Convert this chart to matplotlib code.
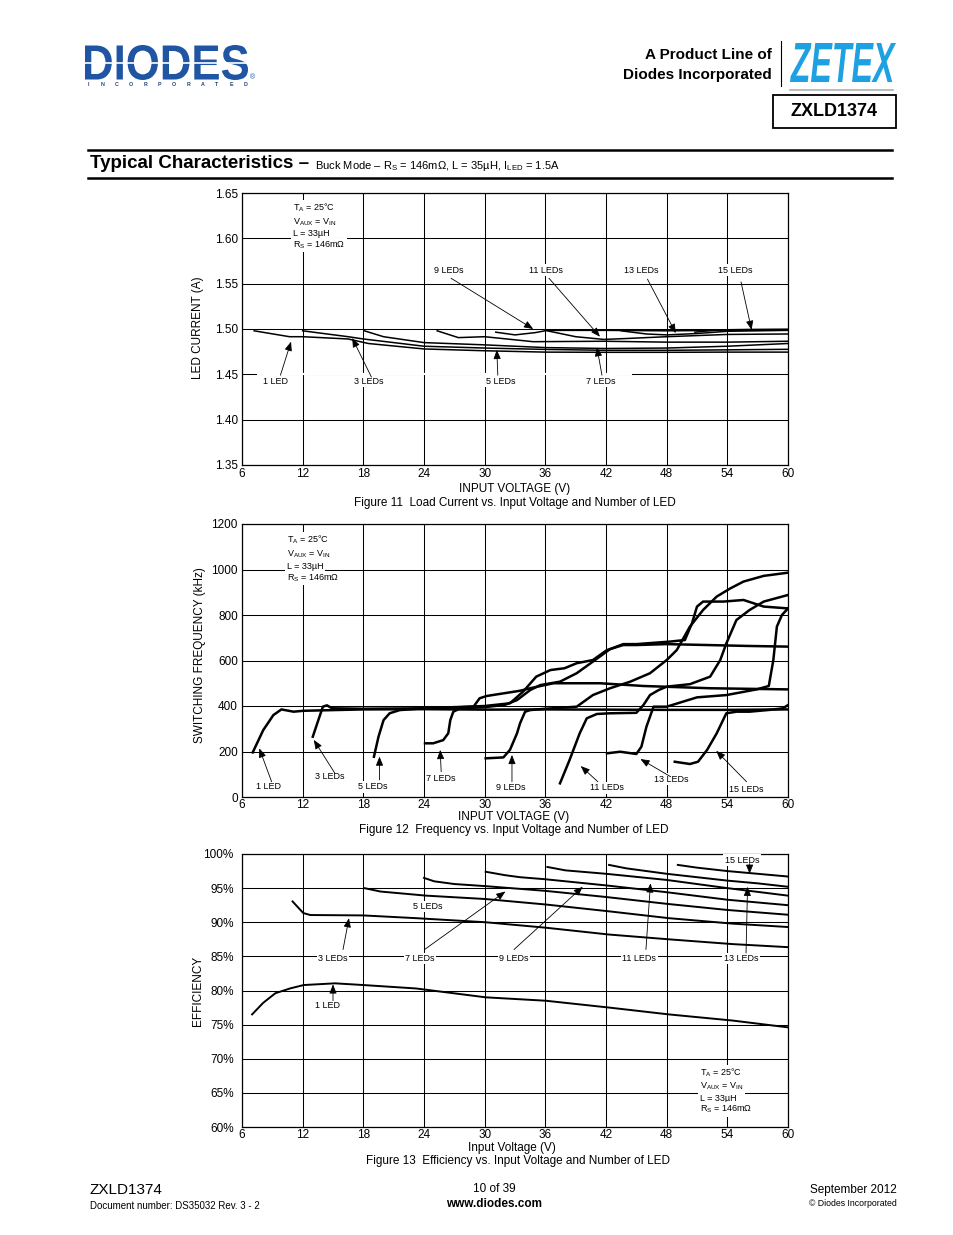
import matplotlib
matplotlib.use("Agg")
import matplotlib.pyplot as plt
from matplotlib.textpath import TextPath
from matplotlib.patches import PathPatch, Rectangle
from matplotlib.font_manager import FontProperties
import matplotlib.transforms as mtransforms

plt.rcParams['font.family'] = ['Liberation Sans', 'DejaVu Sans']
plt.rcParams['mathtext.fontset'] = 'custom'
plt.rcParams['mathtext.rm'] = 'Liberation Sans'
plt.rcParams['mathtext.it'] = 'Liberation Sans:italic'
plt.rcParams['mathtext.bf'] = 'Liberation Sans:bold'

# ---------------- data ----------------
vin_ticks = [6, 12, 18, 24, 30, 36, 42, 48, 54, 60]
led_labels = ['1 LED', '3 LEDs', '5 LEDs', '7 LEDs', '9 LEDs', '11 LEDs', '13 LEDs', '15 LEDs']

# Figure 11 - LED current (A) vs input voltage
cur_v = [
    [7.2, 10.7, 12.0, 16.5, 18.5, 24, 30, 36, 42, 48, 54, 60],
    [12.0, 16.5, 18, 24, 30, 36, 42, 48, 54, 60],
    [18.1, 20, 24, 30, 36, 42, 48, 54, 60],
    [25.3, 27.4, 30, 34.8, 41.8, 48, 54, 60],
    [31.1, 33, 35, 36.2, 42, 48, 54, 60],
    [36.2, 39, 41.8, 44, 48, 54, 60],
    [43.5, 46, 48, 51, 54, 60],
    [50.8, 53, 56, 60],
]
cur_a = [
    [1.498, 1.4915, 1.4915, 1.489, 1.484, 1.478, 1.476, 1.4745, 1.4743, 1.4743, 1.4745, 1.4745],
    [1.498, 1.4915, 1.489, 1.481, 1.479, 1.4775, 1.4765, 1.4765, 1.477, 1.4776],
    [1.498, 1.4915, 1.485, 1.4825, 1.4795, 1.4785, 1.479, 1.481, 1.484],
    [1.498, 1.4905, 1.4915, 1.486, 1.4865, 1.4855, 1.4855, 1.4865],
    [1.4965, 1.4935, 1.4960, 1.4985, 1.4985, 1.498, 1.4985, 1.499],
    [1.498, 1.4915, 1.4885, 1.4895, 1.4915, 1.494, 1.4945],
    [1.498, 1.4945, 1.4935, 1.495, 1.4975, 1.4985],
    [1.4965, 1.499, 1.4995, 1.4998],
]

# Figure 12 - switching frequency (kHz) vs input voltage
frq_v = [
    [7.06, 8.1, 9.1, 9.9, 11.1, 12.1, 18, 24, 30, 36, 42, 48, 54, 60],
    [13.0, 13.55, 14.0, 14.4, 14.9, 18, 24, 27, 28.9, 29.5, 30.2, 33.5, 34.5, 36.8, 41.4, 45.7, 52.3, 60],
    [19.05, 19.5, 20.0, 20.6, 21.6, 24, 27, 30, 32.5, 33.8, 35.1, 36.5, 37.9, 39.1, 40.7, 42.1, 43.7,
     45, 48, 52, 56, 60],
    [24.1, 24.9, 25.9, 26.4, 26.6, 26.9, 27.6, 30, 32, 33.2, 34.5, 35.5, 37.45, 39.1, 40.7, 42.4, 43.7,
     45.0, 48.3, 49.8, 50.5, 51.0, 51.6, 53.6, 55.6, 57.6, 60],
    [30.1, 31.85, 32.5, 33.2, 33.5, 34.0, 34.5, 36, 39.1, 40.7, 42.4, 44.4, 46.35, 48.0, 49.0, 50.3,
     51.6, 52.95, 54.3, 55.6, 57.6, 60],
    [37.45, 38.4, 39.4, 40.1, 41.1, 42.4, 45.0, 45.7, 46.35, 47.2, 48.0, 50.3, 52.3, 53.3, 53.9, 54.9,
     56.2, 57.6, 60],
    [42.1, 43.4, 45.0, 45.5, 46.0, 46.7, 48.0, 51.0, 53.9, 56.9, 58.1, 58.55, 58.9, 59.4, 60],
    [48.8, 50.3, 51.1, 52.0, 52.95, 53.9, 54.9, 56.2, 58.2, 59.5, 60.0],
]
frq_k = [
    [196, 294, 360, 385, 375, 379, 385, 386, 384, 385, 384, 383, 383, 385],
    [265, 338, 397, 403, 390, 388, 390, 393, 397, 434, 444, 467, 478, 500, 500, 488, 478, 473],
    [177, 265, 338, 368, 382, 390, 395, 400, 412, 463, 529, 558, 566, 588, 602, 646, 668,
     668, 672, 668, 664, 661],
    [236, 236, 250, 280, 338, 375, 390, 395, 405, 426, 470, 492, 507, 544, 595, 650, 672,
     672, 683, 690, 763, 837, 859, 859, 866, 837, 829],
    [170, 174, 207, 280, 324, 375, 382, 388, 397, 448, 478, 507, 544, 602, 646, 749,
     822, 881, 917, 947, 972, 986],
    [60, 163, 280, 346, 365, 368, 370, 404, 448, 470, 485, 496, 529, 602, 675, 778,
     822, 859, 888],
    [192, 199, 189, 221, 309, 397, 397, 438, 448, 473, 488, 602, 749, 800, 829],
    [155, 145, 155, 207, 280, 368, 375, 375, 383, 390, 404],
]

# Figure 13 - efficiency (%) vs input voltage
eff_v = [
    [7.0, 8.1, 9.3, 10.75, 12.1, 15.2, 18.0, 23.2, 30.1, 36.05, 42.3, 48.2, 54.5, 60],
    [11.0, 12.06, 12.75, 18.0, 23.2, 30.1, 36.05, 42.3, 48.2, 54.5, 60],
    [18.1, 19.7, 24.2, 30.1, 36.05, 42.3, 48.2, 54.5, 60],
    [24.0, 25, 27, 30, 36, 42, 48, 54, 60],
    [30.1, 32, 33.5, 36, 42, 48, 54, 60],
    [36.2, 38, 42, 48, 54, 60],
    [42.3, 44, 48, 51, 54, 57, 60],
    [49.1, 51, 54, 57, 60],
]
eff_p = [
    [76.5, 78.2, 79.6, 80.3, 80.8, 81.05, 80.8, 80.3, 79.0, 78.5, 77.5, 76.5, 75.6, 74.6],
    [93.05, 91.35, 91.06, 91.0, 90.6, 90.0, 89.2, 88.2, 87.5, 86.8, 86.35],
    [95.0, 94.5, 93.9, 93.4, 92.6, 91.6, 90.6, 89.8, 89.3],
    [96.5, 96.0, 95.6, 95.3, 94.6, 93.7, 92.7, 91.8, 91.1],
    [97.4, 96.9, 96.6, 96.3, 95.4, 94.4, 93.3, 92.5],
    [98.1, 97.6, 97.1, 96.2, 95.0, 93.9],
    [98.4, 97.9, 97.1, 96.6, 96.1, 95.7, 95.2],
    [98.4, 98.0, 97.5, 97.1, 96.7],
]

# label / arrow placement (data coords of each chart)
cur_lab = [(9.3, 1.4426), (18.5, 1.4426), (31.6, 1.4426), (41.5, 1.4426),
           (26.4, 1.565), (36.1, 1.565), (45.5, 1.565), (54.8, 1.565)]
cur_tail = [(9.8, 1.449), (18.8, 1.447), (31.3, 1.449), (41.6, 1.449),
            (26.67, 1.556), (36.36, 1.556), (46.1, 1.555), (55.35, 1.552)]
cur_tip = [(10.85, 1.486), (16.9, 1.490), (31.2, 1.477), (41.1, 1.480),
           (34.8, 1.500), (41.4, 1.4915), (48.9, 1.4955), (56.4, 1.499)]

frq_lab = [(8.67, 44), (14.7, 92), (18.95, 44), (25.7, 83), (32.6, 40), (42.1, 40), (48.5, 79), (55.9, 35)]
frq_tail = [(8.93, 67), (15.19, 104), (19.6, 75), (25.7, 111), (32.7, 67), (41.2, 67), (48.4, 89), (55.9, 67)]
frq_tip = [(7.71, 214), (13.1, 251), (19.6, 178), (25.6, 207), (32.7, 185), (39.5, 136), (45.4, 167), (52.9, 203)]

eff_lab = [(14.5, 77.8), (15.0, 84.7), (24.4, 92.3), (23.6, 84.7), (32.9, 84.7), (45.3, 84.7),
           (55.35, 84.7), (55.45, 99.1)]
eff_tail = [(15.0, 78.5), (15.99, 86.0), None, (24.05, 86.0), (32.9, 86.0), (45.95, 86.0),
            (55.85, 85.5), (56.2, 98.6)]
eff_tip = [(15.0, 80.9), (16.58, 90.6), None, (32.05, 94.5), (39.7, 95.2), (46.4, 95.7),
           (56.0, 95.2), (56.2, 97.1)]

cond_lines = [r'T$_\mathrm{A}$ = 25°C', r'V$_\mathrm{AUX}$ = V$_\mathrm{IN}$', 'L = 33µH',
              r'R$_\mathrm{S}$ = 146mΩ']

# ---------------- page ----------------
W, H = 954, 1235
fig = plt.figure(figsize=(W / 100, H / 100), dpi=100)
page = fig.add_axes([0, 0, 1, 1])
page.set_xlim(0, W)
page.set_ylim(H, 0)
page.axis('off')


def logo(text, x0, y0, x1, y1, color, style='normal'):
    fp = FontProperties(family='Liberation Sans', weight='bold', style=style)
    tp = TextPath((0, 0), text, size=1, prop=fp)
    bb = tp.get_extents()
    tr = (mtransforms.Affine2D().translate(-bb.x0, -bb.y0)
          .scale((x1 - x0) / bb.width, -(y1 - y0) / bb.height).translate(x0, y1))
    page.add_patch(PathPatch(tp, transform=tr + page.transData, color=color, lw=0))


logo('DIODES', 85, 45, 248, 80, '#1f55a3')
page.plot([85, 248], [63, 63], color='white', lw=1.2)
for i, ch in enumerate('INCORPORATED'):
    page.text(88 + i * 14.3, 84, ch, fontsize=3.8, fontweight='bold', color='#1f3f7a',
              va='center', ha='center')
page.text(250, 78, '®', fontsize=5, color='#1f55a3', va='center')
page.text(772, 55, 'A Product Line of', fontsize=11, fontweight='bold', ha='right', va='center')
page.text(772, 75, 'Diodes Incorporated', fontsize=11, fontweight='bold', ha='right', va='center')
page.plot([781, 781], [41, 86], color='k', lw=0.8)
logo('ZETEX', 790, 43, 896, 82, '#1ea1e3', style='italic')
page.plot([790, 893], [90, 90], color='#b0b0b0', lw=1.2)
page.add_patch(Rectangle((773, 95), 123, 33, fill=False, lw=1.3, ec='k'))
page.text(834, 112, 'ZXLD1374', fontsize=13, fontweight='bold', ha='center', va='center')

page.plot([88, 892], [150, 150], color='k', lw=1.8)
page.plot([88, 892], [177.5, 177.5], color='k', lw=1.8)
page.text(90, 164, 'Typical Characteristics –', fontsize=13.5, fontweight='bold', va='center')
page.text(315, 166, r'Buck Mode – R$_\mathrm{S}$ = 146mΩ, L = 35µH, I$_\mathrm{LED}$ = 1.5A',
          fontsize=8, va='center')

page.text(90, 1190, 'ZXLD1374', fontsize=11, va='center')
page.text(90, 1206, 'Document number: DS35032 Rev. 3 - 2', fontsize=7, va='center')
page.text(494, 1189, '10 of 39', fontsize=8.5, ha='center', va='center')
page.text(494, 1204, 'www.diodes.com', fontsize=8.5, fontweight='bold', ha='center', va='center')
page.text(897, 1190, 'September 2012', fontsize=8.5, ha='right', va='center')
page.text(897, 1204, '© Diodes Incorporated', fontsize=6.3, ha='right', va='center')

# axis titles and captions
page.text(515, 489, 'INPUT VOLTAGE (V)', fontsize=8.5, ha='center', va='center')
page.text(515, 503, 'Figure 11  Load Current vs. Input Voltage and Number of LED', fontsize=8.5,
          ha='center', va='center')
page.text(198, 328, 'LED CURRENT (A)', fontsize=8.5, rotation=90, ha='center', va='center')
page.text(514, 817, 'INPUT VOLTAGE (V)', fontsize=8.5, ha='center', va='center')
page.text(514, 830, 'Figure 12  Frequency vs. Input Voltage and Number of LED', fontsize=8.5,
          ha='center', va='center')
page.text(200, 655, 'SWITCHING FREQUENCY (kHz)', fontsize=8.5, rotation=90, ha='center', va='center')
page.text(512, 1148, 'Input Voltage (V)', fontsize=8.5, ha='center', va='center')
page.text(518, 1161, 'Figure 13  Efficiency vs. Input Voltage and Number of LED', fontsize=8.5,
          ha='center', va='center')
page.text(198, 991, 'EFFICIENCY', fontsize=8.5, rotation=90, ha='center', va='center')


def chart(top, bottom, ylim, yticks, ylabels, ypad, xpad):
    ax = fig.add_axes([242 / W, 1 - bottom / H, 546 / W, (bottom - top) / H])
    ax.set_xlim(6, 60)
    ax.set_ylim(*ylim)
    ax.set_xticks(vin_ticks)
    ax.set_yticks(yticks)
    ax.set_yticklabels(ylabels)
    ax.grid(True, color='k', lw=0.75)
    ax.set_axisbelow(True)
    ax.tick_params(length=0, labelsize=8.5)
    ax.tick_params(axis='y', pad=ypad)
    ax.tick_params(axis='x', pad=xpad)
    for s in ax.spines.values():
        s.set_linewidth(0.9)
    return ax


def conditions(ax, x, ys):
    for s, y in zip(cond_lines, ys):
        ax.text(x, y, s, fontsize=6.5, va='center', ha='left', zorder=4,
                bbox=dict(fc='white', ec='none', pad=1.2))


def labels(ax, pos, tails, tips):
    for lab, p, t, h in zip(led_labels, pos, tails, tips):
        ax.text(p[0], p[1], lab, fontsize=6.5, ha='center', va='center', zorder=5,
                bbox=dict(fc='white', ec='none', pad=1.0))
        if t is not None:
            ax.annotate('', xy=h, xytext=t, zorder=6,
                        arrowprops=dict(arrowstyle='-|>,head_length=0.55,head_width=0.22',
                                        color='k', lw=0.6, shrinkA=0, shrinkB=0))


# Figure 11
ax1 = chart(193, 465, (1.35, 1.65), [1.35, 1.40, 1.45, 1.50, 1.55, 1.60, 1.65],
            ['1.35', '1.40', '1.45', '1.50', '1.55', '1.60', '1.65'], 3, 2.5)
ax1.plot([7.5, 44.6], [1.45, 1.45], color='white', lw=1.6, zorder=1, solid_capstyle='butt')
for v, a in zip(cur_v, cur_a):
    ax1.plot(v, a, color='k', lw=1.1, zorder=3)
conditions(ax1, 11.04, [1.6335, 1.618, 1.6048, 1.5926])
labels(ax1, cur_lab, cur_tail, cur_tip)

# Figure 12
ax2 = chart(524, 797, (0, 1200), [0, 200, 400, 600, 800, 1000, 1200],
            ['0', '200', '400', '600', '800', '1000', '1200'], 3, 1.2)
for v, f in zip(frq_v, frq_k):
    ax2.plot(v, f, color='k', lw=1.8, zorder=3, solid_joinstyle='round')
conditions(ax2, 10.45, [1130, 1068, 1015, 963])
labels(ax2, frq_lab, frq_tail, frq_tip)

# Figure 13
ax3 = chart(854, 1127, (60, 100), [60, 65, 70, 75, 80, 85, 90, 95, 100],
            ['60%', '65%', '70%', '75%', '80%', '85%', '90%', '95%', '100%'], 6, 1.5)
for v, e in zip(eff_v, eff_p):
    ax3.plot(v, e, color='k', lw=1.4, zorder=3)
conditions(ax3, 51.3, [67.93, 65.9, 64.14, 62.54])
labels(ax3, eff_lab, eff_tail, eff_tip)

fig.savefig('out.png', dpi=100)
